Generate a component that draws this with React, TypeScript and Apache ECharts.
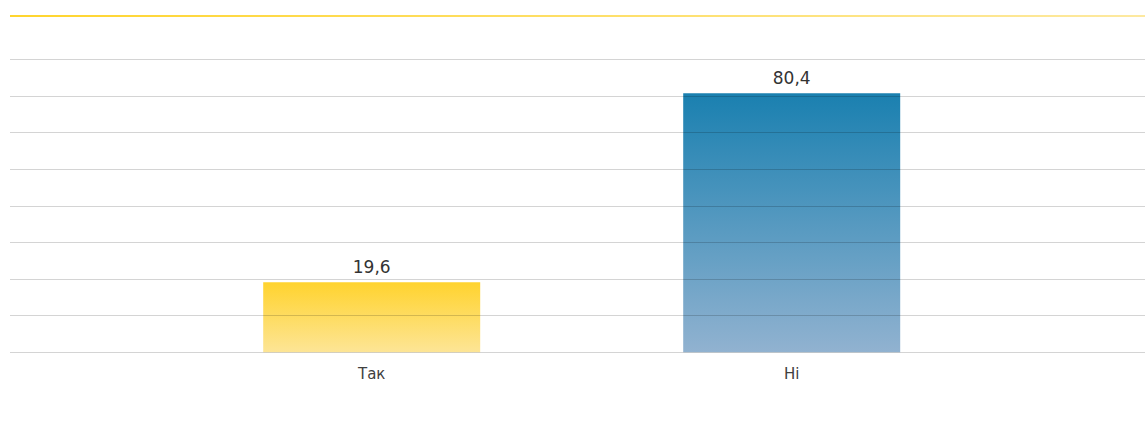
import React, { useEffect, useRef } from "react";
import * as echarts from "echarts";

const categories = ["Так", "Ні"];
const values = [19.6, 80.4];
const gridTicks = [0, 8];

const FONT = "'DejaVu Sans', 'Noto Sans', sans-serif";

export default function App() {
  const ref = useRef<HTMLDivElement>(null);
  useEffect(() => {
    if (!ref.current) return;
    const chart = echarts.init(ref.current, null, { renderer: "svg" });
    const barColors = [
      new echarts.graphic.LinearGradient(0, 0, 0, 1, [
        { offset: 0, color: "rgba(255,211,46,1)" },
        { offset: 1, color: "rgba(253,229,150,1)" },
      ]),
      new echarts.graphic.LinearGradient(0, 0, 0, 1, [
        { offset: 0, color: "rgba(26,128,176,1)" },
        { offset: 1, color: "rgba(145,178,208,1)" },
      ]),
    ];
    chart.setOption({
      animation: false,
      textStyle: { fontFamily: FONT },
      graphic: [
        {
          type: "rect",
          shape: { x: 10, y: 15, width: 1135, height: 2 },
          style: {
            fill: new echarts.graphic.LinearGradient(0, 0, 1, 0, [
              { offset: 0, color: "#ffd52e" },
              { offset: 1, color: "#fde9a0" },
            ]),
          },
        },
      ],
      grid: [
        { left: 161.7, width: 840, top: 59.3, height: 293 },
        { left: 10, right: 0, top: 59.3, height: 293 },
      ],
      xAxis: [
        {
          type: "category",
          gridIndex: 0,
          data: categories,
          axisLine: { show: false },
          axisTick: { show: false },
          axisLabel: { color: "#404040", fontSize: 15, margin: 14, fontFamily: FONT },
        },
        { type: "value", gridIndex: 1, show: false, min: 0, max: 1 },
      ],
      yAxis: [
        {
          type: "value",
          gridIndex: 0,
          min: -2.9,
          max: 91.35,
          startValue: -2.9,
          show: false,
          splitLine: { show: false },
        },
        {
          type: "value",
          gridIndex: 1,
          min: gridTicks[0],
          max: gridTicks[1],
          interval: 1,
          z: 5,
          axisLine: { show: false },
          axisTick: { show: false },
          axisLabel: { show: false },
          splitLine: { show: true, lineStyle: { color: "rgba(0,0,0,0.17)", width: 1 } },
        },
      ],
      series: [
        {
          type: "bar",
          xAxisIndex: 0,
          yAxisIndex: 0,
          barWidth: 217,
          data: values.map((v, i) => ({ value: v, itemStyle: { color: barColors[i] } })),
          label: {
            show: true,
            position: "top",
            distance: 7,
            color: "#333333",
            fontSize: 17,
            fontFamily: FONT,
            formatter: (p: any) => String(p.value).replace(".", ","),
          },
        },
      ],
    });
    return () => chart.dispose();
  }, []);
  return (
    <div
      ref={ref}
      style={{ position: "absolute", left: 0, top: 0, width: 1145, height: 424, background: "#fff" }}
    />
  );
}
